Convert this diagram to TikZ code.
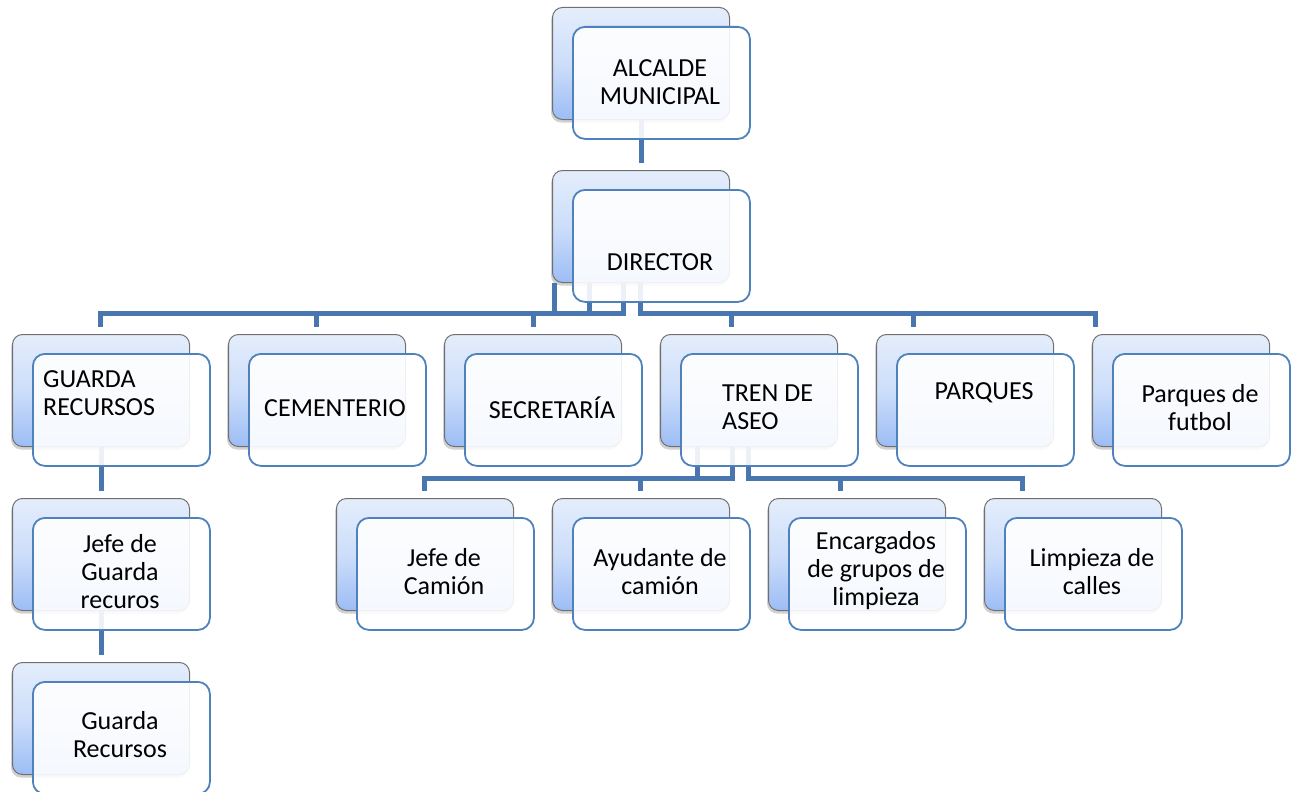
\documentclass[tikz,border=0pt]{standalone}
\usepackage{fontspec}
\setmainfont{Carlito}
\usetikzlibrary{shadows}
\definecolor{connc}{RGB}{74,118,176}
\definecolor{frontline}{RGB}{79,129,189}
\definecolor{backtop}{RGB}{228,237,251}
\definecolor{backmid}{RGB}{205,222,250}
\definecolor{backbot}{RGB}{156,189,245}
\definecolor{backline}{RGB}{112,112,112}
\tikzset{
  backbox/.style={draw=backline, line width=1pt, rounded corners=10pt,
    minimum width=177pt, minimum height=112pt, inner sep=0pt, anchor=north west,
    top color=backtop, bottom color=backbot, middle color=backmid,
    drop shadow={shadow xshift=-1.5pt, shadow yshift=-3pt, opacity=0.3, fill=black!60}},
  frontbox/.style={draw=frontline, line width=1.8pt, rounded corners=12pt,
    minimum width=177pt, minimum height=112pt, inner sep=0pt, anchor=north west,
    fill=white, fill opacity=0.9},
  lbl/.style={font=\fontsize{26}{28}\selectfont, align=center, inner sep=0pt, text=black},
  lbll/.style={font=\fontsize{26}{28}\selectfont, align=left, inner sep=0pt, text=black, anchor=west},
  connector/.style={draw=connc, line width=5pt},
}
\newcommand\orgback[3]{\node[backbox] (#1B) at (#2,#3) {};}
\newcommand\orgfront[3]{\node[frontbox] (#1F) at (#2+20,#3+19) {};}
\begin{document}
\begin{tikzpicture}[x=1pt,y=-1pt]
\useasboundingbox (0,0) rectangle (1293,792);
\clip (0,0) rectangle (1293,792);
% back boxes
\orgback{alc}{552}{7}
\orgback{dir}{552}{170}
\orgback{gua}{12}{334}
\orgback{cem}{228}{334}
\orgback{sec}{444}{334}
\orgback{tren}{660}{334}
\orgback{par}{876}{334}
\orgback{fut}{1092}{334}
\orgback{jfg}{12}{498}
\orgback{grd}{12}{662}
\orgback{jfc}{336}{498}
\orgback{ayu}{552}{498}
\orgback{enc}{768}{498}
\orgback{lim}{984}{498}
% connectors
\draw[connector] (alcB.south) -- ([yshift=7pt]dirB.north);
\draw[connector] ([xshift=2pt]dirB.south west) -- ++(0,30) -| ([xshift=88pt,yshift=7pt]guaB.north west);
\draw[connector] ([xshift=37pt]dirB.south west) -- ++(0,30) -| ([xshift=88pt,yshift=7pt]cemB.north west);
\draw[connector] ([xshift=71pt]dirB.south west) -- ++(0,30) -| ([xshift=89pt,yshift=7pt]secB.north west);
\draw[connector] ([xshift=88pt]dirB.south west) -- ++(0,30) -| ([xshift=71pt,yshift=7pt]trenB.north west);
\draw[connector] ([xshift=88pt]dirB.south west) -- ++(0,30) -| ([xshift=37pt,yshift=7pt]parB.north west);
\draw[connector] ([xshift=88pt]dirB.south west) -- ++(0,30) -| ([xshift=3pt,yshift=7pt]futB.north west);
\draw[connector] ([xshift=37pt]trenB.south west) -- ++(0,31) -| ([xshift=88pt,yshift=7pt]jfcB.north west);
\draw[connector] ([xshift=72pt]trenB.south west) -- ++(0,31) -| ([xshift=88pt,yshift=7pt]ayuB.north west);
\draw[connector] ([xshift=88pt]trenB.south west) -- ++(0,31) -| ([xshift=72pt,yshift=7pt]encB.north west);
\draw[connector] ([xshift=88pt]trenB.south west) -- ++(0,31) -| ([xshift=38pt,yshift=7pt]limB.north west);
\draw[connector] (guaB.south) -- ([yshift=7pt]jfgB.north);
\draw[connector] (jfgB.south) -- ([yshift=7pt]grdB.north);
% front boxes
\orgfront{alc}{552}{7}
\orgfront{dir}{552}{170}
\orgfront{gua}{12}{334}
\orgfront{cem}{228}{334}
\orgfront{sec}{444}{334}
\orgfront{tren}{660}{334}
\orgfront{par}{876}{334}
\orgfront{fut}{1092}{334}
\orgfront{jfg}{12}{498}
\orgfront{grd}{12}{662}
\orgfront{jfc}{336}{498}
\orgfront{ayu}{552}{498}
\orgfront{enc}{768}{498}
\orgfront{lim}{984}{498}
% texts
\node[lbl] (alcT) at (660,82) {ALCALDE\\MUNICIPAL};
\node[lbl] (dirT) at (660,262) {DIRECTOR};
\node[lbll] (guaT) at (43,393) {GUARDA\\RECURSOS};
\node[lbl] (cemT) at (335,408) {CEMENTERIO};
\node[lbl] (secT) at (552,408) {SECRETARÍA};
\node[lbll] (trenT) at (722,407) {TREN DE\\ASEO};
\node[lbl] (parT) at (984,393) {PARQUES};
\node[lbl] (futT) at (1200,408) {Parques de\\futbol};
\node[lbl] (jfgT) at (120,572) {Jefe de\\Guarda\\recuros};
\node[lbl] (grdT) at (120,735) {Guarda\\Recursos};
\node[lbl] (jfcT) at (444,572) {Jefe de\\Camión};
\node[lbl] (ayuT) at (660,572) {Ayudante de\\camión};
\node[lbl] (encT) at (876,571) {Encargados\\de grupos de\\limpieza};
\node[lbl] (limT) at (1092,572) {Limpieza de\\calles};
\end{tikzpicture}
\end{document}
